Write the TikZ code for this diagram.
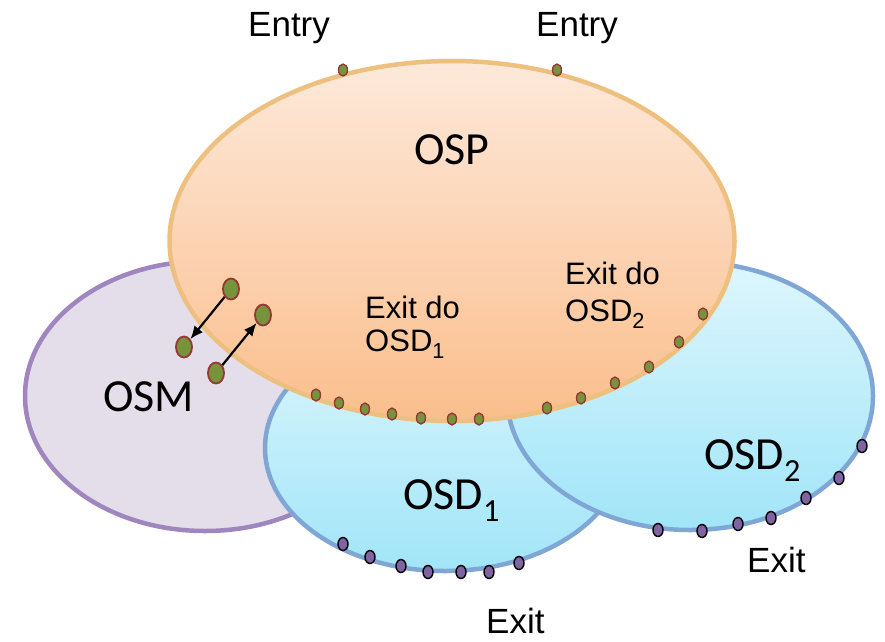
\documentclass[tikz,border=0pt]{standalone}
\usepackage{fontspec}
\setmainfont{Liberation Sans}
\newfontfamily\calibrifont{Carlito}
\usepackage{tikz}
\usetikzlibrary{shapes.geometric, arrows.meta, positioning}
\definecolor{osptop}{RGB}{253,233,218}
\definecolor{ospbottom}{RGB}{251,190,140}
\definecolor{ospline}{RGB}{238,192,128}
\definecolor{osmfill}{RGB}{227,222,234}
\definecolor{osmline}{RGB}{160,134,190}
\definecolor{osdtop}{RGB}{222,246,253}
\definecolor{osdbottom}{RGB}{160,229,248}
\definecolor{osdline}{RGB}{128,166,214}
\definecolor{dotgreen}{RGB}{119,147,60}
\definecolor{dotred}{RGB}{149,55,53}
\definecolor{dotlila}{RGB}{128,100,162}

\begin{document}
\begin{tikzpicture}[x=1pt,y=-1pt,
		region/.style={ellipse,inner sep=0pt,outer sep=0pt,line width=4.5pt},
		gdot/.style={ellipse,draw=dotred,fill=dotgreen,line width=1.3pt,inner sep=0pt,minimum width=9pt,minimum height=12pt},
		bigdot/.style={gdot,line width=1.8pt,minimum width=16pt,minimum height=21pt},
		ldot/.style={ellipse,draw=black,fill=dotlila,line width=1.4pt,inner sep=0pt,minimum width=10pt,minimum height=13pt},
		setname/.style={inner sep=0pt,font=\calibrifont\fontsize{46}{50}\selectfont},
		portname/.style={inner sep=0pt,font=\fontsize{35}{38}\selectfont},
		doorname/.style={inner sep=0pt,align=left,anchor=north west,font=\fontsize{31}{33}\selectfont}]
		\useasboundingbox (0,0) rectangle (885,641);
		
		%----------------------------------------------------------------
		\node(osm) [region,draw=osmline,fill=osmfill,minimum width=360pt,minimum height=270pt] at (205,396) {};
		\node(osdone) [region,draw=osdline,top color=osdtop,bottom color=osdbottom,minimum width=360pt,minimum height=246pt] at (445,448) {};
		\node(osdtwo) [region,draw=osdline,top color=osdtop,bottom color=osdbottom,minimum width=366pt,minimum height=268pt] at (690,396) {};
		\node(osp) [region,draw=ospline,top color=osptop,bottom color=ospbottom,minimum width=565pt,minimum height=360pt] at (452,241) {};
		
		%----------------------------------------------------------------
		\node(entryone) [gdot] at (343,70) {};
		\node(entrytwo) [gdot] at (557,70) {};
		
		\node(inA) [bigdot] at (231,289) {};
		\node(inB) [bigdot] at (184,347) {};
		\node(inC) [bigdot] at (216,373) {};
		\node(inD) [bigdot] at (263,315) {};
		
		\node(ex1) [gdot] at (316,395) {};
		\node(ex2) [gdot] at (339,403) {};
		\node(ex3) [gdot] at (365,409) {};
		\node(ex4) [gdot] at (392,414) {};
		\node(ex5) [gdot] at (421,418) {};
		\node(ex6) [gdot] at (452,419) {};
		\node(ex7) [gdot] at (479,419) {};
		\node(ex8) [gdot] at (547,408) {};
		\node(ex9) [gdot] at (581,398) {};
		\node(ex10) [gdot] at (615,383) {};
		\node(ex11) [gdot] at (649,367) {};
		\node(ex12) [gdot] at (679,342) {};
		\node(ex13) [gdot] at (703,314) {};
		
		%----------------------------------------------------------------
		\node(out1) [ldot] at (343,544) {};
		\node(out2) [ldot] at (370,557) {};
		\node(out3) [ldot] at (401,566) {};
		\node(out4) [ldot] at (428,572) {};
		\node(out5) [ldot] at (461,572) {};
		\node(out6) [ldot] at (489,572) {};
		\node(out7) [ldot] at (519,563) {};
		
		\node(outtwo1) [ldot] at (658,530) {};
		\node(outtwo2) [ldot] at (702,531) {};
		\node(outtwo3) [ldot] at (738,524) {};
		\node(outtwo4) [ldot] at (771,518) {};
		\node(outtwo5) [ldot] at (806,498) {};
		\node(outtwo6) [ldot] at (839,478) {};
		\node(outtwo7) [ldot] at (862,446) {};
		
		%----------------------------------------------------------------
		\draw [-{Latex[length=13pt,width=11pt]},line width=2.2pt] (inA) -- (inB);
		\draw [-{Latex[length=13pt,width=11pt]},line width=2.2pt] (inC) -- (inD);
		
		%----------------------------------------------------------------
		\node(osplabel) [setname,anchor=base] at (452,164) {OSP};
		\node(osmlabel) [setname,anchor=base west] at (103,411) {OSM};
		\node(osdonelabel) [setname,anchor=base west] at (403,509) {OSD\textsubscript{1}};
		\node(osdtwolabel) [setname,anchor=base west] at (704,469) {OSD\textsubscript{2}};
		
		\node(entryonelabel) [portname,anchor=base west] at (248,36) {Entry};
		\node(entrytwolabel) [portname,anchor=base west] at (536,36) {Entry};
		\node(exitonelabel) [portname,anchor=base west] at (486,633) {Exit};
		\node(exittwolabel) [portname,anchor=base west] at (747,572) {Exit};
		
		\node(doorone) [doorname] at (365,296) {Exit do \\ OSD\textsubscript{1}};
		\node(doortwo) [doorname] at (565,262) {Exit do \\[4pt] OSD\textsubscript{2}};
		
	\end{tikzpicture}
\end{document}
